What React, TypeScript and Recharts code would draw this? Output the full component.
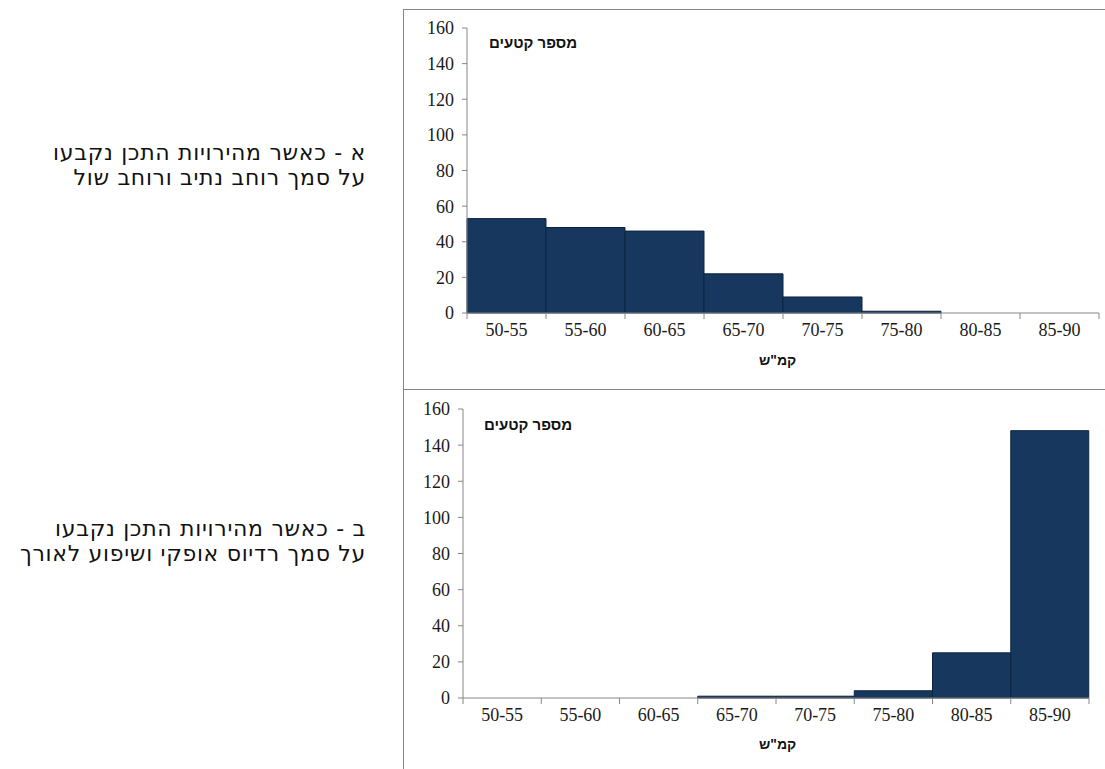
import { BarChart, Bar, XAxis, YAxis } from "recharts";

// speed bins (km/h) shared by both histograms
const speedBins = ["50-55", "55-60", "60-65", "65-70", "70-75", "75-80", "80-85", "85-90"];
// number of road segments per bin
const countsByLaneWidth = [53, 48, 46, 22, 9, 1, 0, 0];
const countsByRadius = [0, 0, 0, 1, 1, 4, 25, 148];
const countTicks = [0, 20, 40, 60, 80, 100, 120, 140, 160];

const AXIS_GRAY = "#868686";
const BAR_FILL = "#17375E";
const X_TICK_SIZE = 6;
const X_TICK_MARGIN = 4;

// category label plus tick marks on the bin boundaries (histogram style)
function BinTick(props: any) {
  const { x, y, payload, index, visibleTicksCount } = props;
  const half = payload.offset ?? 0;
  const lineTop = y - X_TICK_SIZE - X_TICK_MARGIN;
  const lineBottom = y - X_TICK_MARGIN;
  const isLast = index === visibleTicksCount - 1;
  return (
    <g>
      <line x1={x - half} x2={x - half} y1={lineTop} y2={lineBottom} stroke={AXIS_GRAY} />
      {isLast && <line x1={x + half} x2={x + half} y1={lineTop} y2={lineBottom} stroke={AXIS_GRAY} />}
      <text
        x={x}
        y={y}
        dy="0.71em"
        textAnchor="middle"
        fill="#1a1a1a"
        fontSize={18}
        fontFamily="Liberation Serif"
      >
        {payload.value}
      </text>
    </g>
  );
}

interface HistProps {
  counts: number[];
  top: number;
  margin: { top: number; right: number; bottom: number; left: number };
  titleTop: number;
  titleLeft: number;
  unitTop: number;
}

function SpeedHistogram({ counts, top, margin, titleTop, titleLeft, unitTop }: HistProps) {
  const rows = speedBins.map((bin, i) => ({ bin, count: counts[i] }));

  return (
    <div
      style={{
        position: "absolute",
        left: 403,
        top,
        width: 702,
        height: 380,
        borderLeft: `1px solid ${AXIS_GRAY}`,
        borderTop: `1px solid ${AXIS_GRAY}`,
        boxSizing: "border-box",
      }}
    >
      <BarChart width={701} height={379} data={rows} margin={margin} barCategoryGap={0}>
        <XAxis
          dataKey="bin"
          axisLine={{ stroke: AXIS_GRAY }}
          tickLine={false}
          tickSize={X_TICK_SIZE}
          tickMargin={X_TICK_MARGIN}
          height={30}
          tick={<BinTick />}
          interval={0}
        />
        <YAxis
          domain={[0, 160]}
          ticks={countTicks}
          width={45}
          axisLine={{ stroke: AXIS_GRAY }}
          tickLine={{ stroke: AXIS_GRAY }}
          tickSize={5}
          tickMargin={8}
          tick={{ fill: "#1a1a1a", fontSize: 18, fontFamily: "Liberation Serif" }}
        />
        <Bar
          dataKey="count"
          fill={BAR_FILL}
          stroke="#0d2440"
          strokeWidth={1}
          isAnimationActive={false}
        />
      </BarChart>
      <div
        style={{
          position: "absolute",
          left: titleLeft,
          top: titleTop,
          direction: "rtl",
          fontFamily: "Liberation Sans",
          fontWeight: "bold",
          fontSize: 15,
          color: "#111",
          whiteSpace: "nowrap",
        }}
      >
        מספר קטעים
      </div>
      <div
        style={{
          position: "absolute",
          left: 355,
          top: unitTop,
          direction: "rtl",
          fontFamily: "Liberation Sans",
          fontWeight: "bold",
          fontSize: 14,
          color: "#111",
          whiteSpace: "nowrap",
        }}
      >
        קמ"ש
      </div>
    </div>
  );
}

const captionStyle: React.CSSProperties = {
  position: "absolute",
  right: 1105 - 366,
  direction: "rtl",
  textAlign: "right",
  fontFamily: "DejaVu Sans",
  fontSize: 22,
  letterSpacing: 0.7,
  lineHeight: "25px",
  color: "#111",
  whiteSpace: "nowrap",
};

export default function App() {
  return (
    <div style={{ position: "absolute", left: 0, top: 0, width: 1105, height: 769, background: "#fff", overflow: "hidden" }}>
      <div style={{ ...captionStyle, top: 140 }}>
        <div>א - כאשר מהירויות התכן נקבעו</div>
        <div>על סמך רוחב נתיב ורוחב שול</div>
      </div>
      <div style={{ ...captionStyle, top: 516 }}>
        <div>ב - כאשר מהירויות התכן נקבעו</div>
        <div>על סמך רדיוס אופקי ושיפוע לאורך</div>
      </div>

      <SpeedHistogram
        counts={countsByLaneWidth}
        top={9}
        margin={{ top: 18, right: 6, bottom: 46, left: 18 }}
        titleTop={24}
        titleLeft={85}
        unitTop={342}
      />
      <SpeedHistogram
        counts={countsByRadius}
        top={389}
        margin={{ top: 19, right: 16, bottom: 41, left: 14 }}
        titleTop={26}
        titleLeft={80}
        unitTop={346}
      />
    </div>
  );
}
